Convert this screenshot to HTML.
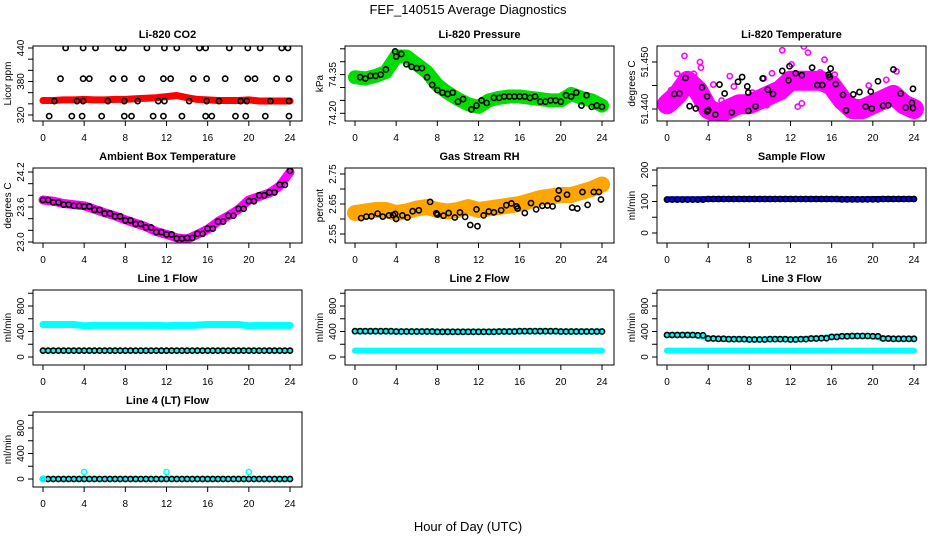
<!DOCTYPE html>
<html><head><meta charset="utf-8"><style>
html,body{margin:0;padding:0;background:#fff;}
svg{display:block;font-family:"Liberation Sans",sans-serif;}
</style></head><body>
<svg id="c" width="936" height="540" viewBox="0 0 936 540">
<text x="468" y="14" text-anchor="middle" font-size="13">FEF_140515  Average Diagnostics</text>
<text x="468" y="531" text-anchor="middle" font-size="13">Hour of Day (UTC)</text>
</svg>
<script>
// ---- data ----
const hours = [0,1,2,3,4,5,6,7,8,9,10,11,12,13,14,15,16,17,18,19,20,21,22,23,24];
const xTicks = [0,4,8,12,16,20,24];
// CO2
const co2Band = [346,346,347,347,348,347,347,348,348,349,350,351,353,355,351,348,347,346,346,346,347,345,345,345,345];
const co2PtsX = [2.2,3.9,5.1,7.3,7.8,10.1,11.8,13,15.2,15.8,18.1,19.9,21.1,23.2,23.8, 1.7,3.9,4.5,6.8,7.9,9.6,11.7,12.4,14.6,15.9,17.7,19.9,20.6,22.7,23.9, 1.1,3.3,3.9,6.3,7.9,9.2,11.2,11.8,14.2,15.9,17.1,19.2,19.8,22.1,23.9, 0.6,2.8,3.8,5.7,7.9,8.6,10.7,11.7,13.5,15.8,16.4,18.7,19.7,21.6,23.9];
const co2PtsY = [440,440,440,440,440,440,440,440,440,440,440,440,440,440,440, 385,385,385,385,385,385,385,385,385,385,385,385,385,385,385, 345,345,345,345,345,345,345,345,345,345,345,345,345,345,345, 318,318,318,318,318,318,318,318,318,318,318,318,318,318,318];
// Pressure
const presBand = [74.34,74.335,74.345,74.36,74.42,74.42,74.39,74.36,74.31,74.28,74.255,74.235,74.225,74.25,74.26,74.265,74.265,74.26,74.255,74.25,74.25,74.275,74.26,74.25,74.23];
const presPtsX = [0.5,1,1.5,2,2.5,3,3.9,4,4.5,5,5.5,6,6.5,7,7.5,8,8.5,9,9.5,10,10.5,11.3,11.8,12.3,12.8,13.5,14,14.5,15,15.5,16,16.5,17,17.5,18,18.5,19,19.5,20,20.5,21,21.5,22,22.5,23,23.5,24];
const presPtsY = [74.34,74.335,74.345,74.345,74.35,74.37,74.44,74.42,74.43,74.39,74.38,74.375,74.375,74.34,74.31,74.29,74.28,74.275,74.28,74.245,74.255,74.215,74.23,74.25,74.24,74.26,74.26,74.265,74.265,74.265,74.265,74.265,74.26,74.265,74.245,74.245,74.25,74.25,74.245,74.27,74.265,74.28,74.23,74.27,74.225,74.23,74.225];
// Li-820 temperature
const tempBand = [51.441,51.443,51.446,51.444,51.440,51.439,51.440,51.441,51.441,51.442,51.443,51.444,51.446,51.446,51.446,51.446,51.445,51.442,51.440,51.440,51.441,51.442,51.443,51.441,51.440];
const tempMagX = [0.4,1,1.7,2.1,2.6,3.2,3.3,4.5,5.3,6.1,6.5,7.4,8.3,9.4,10.2,10.8,11.2,12.1,12.7,13.3,13.7,14.2,14.9,15.3,16.3,17.5,18.5,19.6,20.2,21.3,22.3,23.1,23.6,2.5,5.8,9.7,13.1,17.8,21.8,0.2];
const tempMagY = [51.444,51.4475,51.4513,51.446,51.4475,51.450,51.4488,51.4452,51.4418,51.447,51.4448,51.4418,51.4435,51.4465,51.4476,51.4423,51.4525,51.4495,51.4405,51.4533,51.452,51.4458,51.4478,51.4505,51.4473,51.4398,51.4405,51.445,51.4425,51.4462,51.448,51.4415,51.4402,51.443,51.4395,51.4408,51.4412,51.4402,51.4438,51.4405];
const tempBlkX = [0.7,1.2,1.8,2.2,2.8,3.4,3.9,3.9,4,4.7,5.1,5.6,6.3,6.9,7.3,7.8,7.9,7.9,8.6,9.3,9.8,10.3,11.2,11.8,11.9,12.5,13.1,14.1,14.6,15.1,15.7,15.8,15.9,16.4,17.1,17.4,18.1,18.7,19.3,19.8,19.9,20.5,21.0,21.5,22.0,22.7,23.2,23.8,23.9,23.9];
const tempBlkY = [51.4432,51.4433,51.4466,51.4406,51.4401,51.4446,51.4427,51.4395,51.4398,51.4388,51.4452,51.4433,51.4393,51.4458,51.4468,51.4448,51.4435,51.4396,51.4406,51.4465,51.4441,51.4432,51.4481,51.4461,51.4491,51.4476,51.4472,51.4488,51.4451,51.4451,51.4473,51.4468,51.4486,51.4453,51.443,51.4397,51.4431,51.4436,51.4405,51.4437,51.4401,51.4459,51.4407,51.4408,51.4484,51.4433,51.4403,51.4413,51.4443,51.4402];
// Ambient box temperature
const ambBand = [23.72,23.70,23.66,23.64,23.62,23.56,23.50,23.45,23.38,23.32,23.26,23.18,23.13,23.07,23.05,23.13,23.22,23.35,23.45,23.56,23.72,23.78,23.84,23.96,24.20];
const ambPts  = [23.72,23.68,23.64,23.62,23.61,23.55,23.49,23.44,23.37,23.31,23.25,23.17,23.13,23.06,23.07,23.14,23.23,23.35,23.45,23.57,23.70,23.80,23.85,23.98,24.22];
// Gas stream RH
const rhBand = [2.62,2.625,2.63,2.63,2.62,2.625,2.635,2.64,2.63,2.625,2.63,2.64,2.63,2.635,2.64,2.645,2.65,2.66,2.67,2.675,2.68,2.68,2.69,2.70,2.715];
const rhPtsX = [0.6,1.1,1.6,2.2,2.7,3.3,3.7,3.9,4,4.6,5.1,5.6,6.2,6.7,7.3,7.9,8,8.6,9.1,9.7,10.2,10.7,11.2,11.8,11.9,12.5,13,13.5,14.2,14.7,15.2,15.7,15.8,16.5,17.1,17.6,18.2,18.7,19.2,19.7,19.8,20.6,21.1,21.6,22.1,22.6,23.2,23.7,23.9];
const rhPtsY = [2.603,2.608,2.609,2.618,2.608,2.612,2.613,2.617,2.6,2.612,2.605,2.626,2.629,2.507,2.657,2.619,2.615,2.611,2.62,2.605,2.622,2.607,2.58,2.632,2.576,2.612,2.625,2.622,2.629,2.646,2.652,2.642,2.635,2.62,2.653,2.632,2.644,2.645,2.642,2.668,2.695,2.681,2.638,2.635,2.69,2.647,2.69,2.69,2.665];
// Sample flow
const sampBand = [107,107,107,107,108,108,108,108,108,108,108,108,108,108,108,108,108,107,107,107,108,108,108,108,108];
const sampPts  = [106,106,106,106,108,108,108,108,108,108,108,108,108,108,108,108,108,107,107,107,107,108,108,108,108];
// Line flows
const l1Cyan = [510,510,510,510,490,495,495,495,495,495,495,495,490,495,495,500,510,510,510,510,490,495,495,495,495];
const l1Blk  = [100,100,100,100,100,100,100,100,100,100,100,100,100,100,100,100,100,100,100,100,100,100,100,100,100];
const l2Cyan = [100,100,100,100,100,100,100,100,100,100,100,100,100,100,100,100,100,100,100,100,100,100,100,100,100];
const l2Blk  = [405,405,405,405,400,400,400,400,395,395,395,395,395,395,400,400,405,405,405,405,400,400,400,400,400];
const l3Cyan = [100,100,100,100,100,100,100,100,100,100,100,100,100,100,100,100,100,100,100,100,100,100,100,100,100];
const l3Blk  = [345,345,345,340,290,285,280,280,275,275,280,280,275,280,290,295,315,325,330,330,325,290,285,285,285];
const l4Blk  = [0,0,0,0,0,0,0,0,0,0,0,0,0,0,0,0,0,0,0,0,0,0,0,0,0];
const l4CyanX = [0,4,12,20];
const l4CyanY = [0,110,110,110];

// ---- drawing ----
const NS = 'http://www.w3.org/2000/svg';
const svg = document.getElementById('c');
function mk(tag, attrs, parent) {
  const e = document.createElementNS(NS, tag);
  for (const k in attrs) e.setAttribute(k, attrs[k]);
  (parent || svg).appendChild(e);
  return e;
}
function panel(col, row, title, ylab, ymin, ymax, yTicks, yLabels) {
  const L = 33 + 312 * col, T = 46 + 122 * row, W = 269, H = 75;
  const g = mk('g', {});
  
  
  const x0 = L + 10, x1 = L + 257;
  const ya = yTicks.px;
  const sx = h => x0 + (h / 24) * (x1 - x0);
  const sy = v => ya.p0 + (v - ya.v0) * (ya.p1 - ya.p0) / (ya.v1 - ya.v0);
  const t = mk('text', {x: L + W / 2, y: T - 8, 'text-anchor': 'middle', 'font-size': 11, 'font-weight': 'bold'}, g);
  t.textContent = title;
  
  
  const clipId = 'clip' + col + row;
  const cp = mk('clipPath', {id: clipId}, g);
  mk('rect', {x: L, y: T, width: W, height: H}, cp);
  const plot = mk('g', {'clip-path': 'url(#' + clipId + ')'}, g);
  
  
  const box = mk('rect', {x: L, y: T, width: W, height: H, fill: 'none', stroke: '#000', 'stroke-width': 1}, g);
  
  
  xTicks.forEach(h => {
    mk('line', {x1: sx(h), x2: sx(h), y1: T + H, y2: T + H + 5, stroke: '#000'}, g);
    const tx = mk('text', {x: sx(h), y: T + H + 20, 'text-anchor': 'middle', 'font-size': 10}, g);
    tx.textContent = h;
    
    
  });
  yTicks.vals.forEach((v, i) => {
    const y = sy(v);
    mk('line', {x1: L - 5, x2: L, y1: y, y2: y, stroke: '#000'}, g);
    if (yLabels[i]) {
      const tx = mk('text', {x: L - 9, y: y, 'text-anchor': 'middle', 'font-size': 10, transform: 'rotate(-90 ' + (L - 9) + ' ' + y + ')'}, g);
      tx.textContent = yLabels[i];
      
      
    }
  });
  const yl = mk('text', {x: L - 22, y: T + H / 2, 'text-anchor': 'middle', 'font-size': 10, transform: 'rotate(-90 ' + (L - 22) + ' ' + (T + H / 2) + ')'}, g);
  yl.textContent = ylab;
  
  
  return {plot, sx, sy};
}
function band(p, xs, vs, color, width, name) {
  const pts = xs.map((h, i) => p.sx(h).toFixed(1) + ',' + p.sy(vs[i]).toFixed(1)).join(' ');
  const e = mk('polyline', {points: pts, fill: 'none', stroke: color, 'stroke-width': width, 'stroke-linejoin': 'round', 'stroke-linecap': 'round'}, p.plot);
  
  
}
function pts(p, xs, vs, color, name, r) {
  xs.forEach((h, i) => {
    const c = mk('circle', {cx: p.sx(h), cy: p.sy(vs[i]), r: r || 2.6, fill: 'none', stroke: color, 'stroke-width': 1.6}, p.plot);
    
    
  });
}
function dense(p, xs, vs, color, name) {
  for (let i = 0; i < xs.length; i++) {
    const c = mk('circle', {cx: p.sx(xs[i]), cy: p.sy(vs[i]), r: 2.6, fill: 'none', stroke: color, 'stroke-width': 1.6}, p.plot);
    
    
    if (i < xs.length - 1) {
      const c2 = mk('circle', {cx: (p.sx(xs[i]) + p.sx(xs[i + 1])) / 2, cy: p.sy(vs[i]), r: 2.6, fill: 'none', stroke: color, 'stroke-width': 1.6}, p.plot);
      
      
    }
  }
}
const flowTicks = row => ({vals: [0,200,400,600,800,1000], px: {v0: 0, p0: 357 + 122 * (row - 2), v1: 800, p1: 306 + 122 * (row - 2)}});
const flowLabels = ['0','','400','','800',''];

// CO2
let p = panel(0, 0, 'Li-820 CO2', 'Licor ppm', 0, 0, {vals: [320,340,360,380,400,420,440], px: {v0: 320, p0: 115, v1: 440, p1: 48}}, ['320','','','380','','','440']);
band(p, hours, co2Band, '#ff0000', 7, 'co2-band');
pts(p, co2PtsX, co2PtsY, '#000', 'co2-point');
// Pressure
p = panel(1, 0, 'Li-820 Pressure', 'kPa', 0, 0, {vals: [74.20,74.25,74.30,74.35,74.40,74.45], px: {v0: 74.20, p0: 113.3, v1: 74.45, p1: 48.8}}, ['74.20','','','74.35','','']);
band(p, hours, presBand, '#00dd00', 14, 'pressure-band');
pts(p, presPtsX, presPtsY, '#000', 'pressure-point');
// Li-820 temperature
p = panel(2, 0, 'Li-820 Temperature', 'degrees C', 0, 0, {vals: [51.440,51.445,51.450], px: {v0: 51.440, p0: 109, v1: 51.450, p1: 62}}, ['51.440','','51.450']);
band(p, hours, tempBand, '#ff00ff', 20, 'temperature-band');
pts(p, tempMagX, tempMagY, '#ff00ff', 'temperature-magenta-point');
pts(p, tempBlkX, tempBlkY, '#000', 'temperature-point');
// Ambient
p = panel(0, 1, 'Ambient Box Temperature', 'degrees C', 0, 0, {vals: [23.0,23.2,23.4,23.6,23.8,24.0,24.2], px: {v0: 23.0, p0: 242, v1: 24.2, p1: 172}}, ['23.0','','','23.6','','','24.2']);
band(p, hours, ambBand, '#ff00ff', 9, 'ambient-band');
dense(p, hours, ambPts, '#000', 'ambient-point');
// RH
p = panel(1, 1, 'Gas Stream RH', 'percent', 0, 0, {vals: [2.55,2.60,2.65,2.70,2.75], px: {v0: 2.55, p0: 234, v1: 2.75, p1: 174}}, ['2.55','','2.65','','2.75']);
band(p, hours, rhBand, '#ffa500', 16, 'rh-band');
pts(p, rhPtsX, rhPtsY, '#000', 'rh-point');
// Sample flow
p = panel(2, 1, 'Sample Flow', 'ml/min', 0, 0, {vals: [0,50,100,150,200], px: {v0: 0, p0: 233, v1: 200, p1: 170}}, ['0','','100','','200']);
band(p, hours, sampBand, '#0000ff', 6, 'sample-flow-band');
dense(p, hours, sampPts, '#000', 'sample-flow-point');
// Line 1
p = panel(0, 2, 'Line 1 Flow', 'ml/min', 0, 0, flowTicks(2), flowLabels);
band(p, hours, l1Cyan, '#00ffff', 7, 'line1-cyan-band');
band(p, hours, l1Blk, '#00ffff', 5, 'line1-low-band');
dense(p, hours, l1Blk, '#000', 'line1-point');
// Line 2
p = panel(1, 2, 'Line 2 Flow', 'ml/min', 0, 0, flowTicks(2), flowLabels);
band(p, hours, l2Cyan, '#00ffff', 6, 'line2-cyan-band');
band(p, hours, l2Blk, '#00ffff', 6, 'line2-high-band');
dense(p, hours, l2Blk, '#000', 'line2-point');
// Line 3
p = panel(2, 2, 'Line 3 Flow', 'ml/min', 0, 0, flowTicks(2), flowLabels);
band(p, hours, l3Cyan, '#00ffff', 6, 'line3-cyan-band');
band(p, hours, l3Blk, '#00ffff', 6, 'line3-high-band');
dense(p, hours, l3Blk, '#000', 'line3-point');
// Line 4
p = panel(0, 3, 'Line 4 (LT) Flow', 'ml/min', 0, 0, flowTicks(3), flowLabels);
band(p, hours, l4Blk, '#00ffff', 5, 'line4-cyan-band');
dense(p, hours, l4Blk, '#000', 'line4-point');
pts(p, l4CyanX, l4CyanY, '#00ffff', 'line4-cyan-point');
</script>
</body></html>
